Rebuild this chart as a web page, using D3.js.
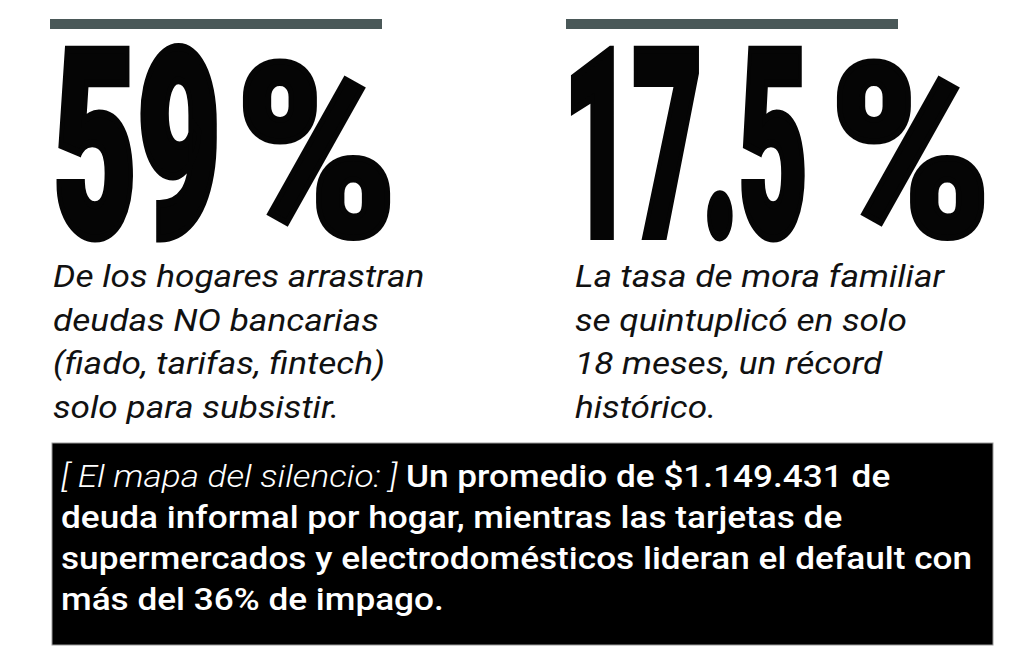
<!DOCTYPE html>
<html>
<head>
<meta charset="utf-8">
<script src="https://cdn.jsdelivr.net/npm/d3@7"></script>
<style>
  html, body { margin: 0; padding: 0; background: #fff; }
  svg { display: block; }
</style>
</head>
<body>
<div id="chart"></div>
<script>
// figures and their captions
var statKeys = ["hogares", "mora"];
var statValues = ["59", "17.5"];
var statUnits = ["%", "%"];
var statLines = [
  ["De los hogares arrastran", "deudas NO bancarias", "(fiado, tarifas, fintech)", "solo para subsistir."],
  ["La tasa de mora familiar", "se quintuplicó en solo", "18 meses, un récord", "histórico."]
];
var boxLead = "[ El mapa del silencio: ]";
var boxLines = [
  "Un promedio de $1.149.431 de",
  "deuda informal por hogar, mientras las tarjetas de",
  "supermercados y electrodomésticos lideran el default con",
  "más del 36% de impago."
];

var width = 1024, height = 664;

var svg = d3.select("#chart").append("svg")
    .attr("width", width)
    .attr("height", height);

var colX = d3.scaleOrdinal().domain(statKeys).range([50, 566]);
var colW = 332;

// per column layout tweaks (the right figure has more digits)
var numX = [3, -3], numLen = [168, 245];
var unitX = [186, 264], unitLen = [161, 161];
var capX = [3, 9];

var stats = statKeys.map(function(k, i) {
  return {key: k, value: statValues[i], unit: statUnits[i], lines: statLines[i], idx: i};
});

var col = svg.selectAll(".stat")
  .data(stats)
 .enter()
  .append("g")
  .attr("class", "stat")
  .attr("transform", function(d) { return "translate(" + colX(d.key) + ",0)"; });

// grey rule on top
col.append("rect")
  .attr("x", 0)
  .attr("y", 19)
  .attr("width", colW)
  .attr("height", 10)
  .style("fill", "#4a5858");

// big condensed figure
var bigFont = "'Roboto', 'Inter', 'Liberation Sans', sans-serif";
col.append("text")
  .attr("class", "big")
  .attr("x", function(d) { return numX[d.idx]; })
  .attr("y", 236)
  .attr("textLength", function(d) { return numLen[d.idx]; })
  .attr("lengthAdjust", "spacingAndGlyphs")
  .style("font-family", bigFont)
  .style("font-weight", 900)
  .style("font-size", "262px")
  .style("fill", "#050505")
  .style("stroke", "#050505")
  .style("stroke-width", 8)
  .style("stroke-linejoin", "miter")
  .text(function(d) { return d.value; });

col.append("text")
  .attr("class", "unit")
  .attr("x", function(d) { return unitX[d.idx]; })
  .attr("y", 236)
  .attr("textLength", function(d) { return unitLen[d.idx]; })
  .attr("lengthAdjust", "spacingAndGlyphs")
  .style("font-family", bigFont)
  .style("font-weight", 900)
  .style("font-size", "242px")
  .style("fill", "#050505")
  .style("stroke", "#050505")
  .style("stroke-width", 6)
  .text(function(d) { return d.unit; });

// italic caption
col.each(function(d) {
  d3.select(this).selectAll(".cap")
    .data(d.lines)
   .enter()
    .append("text")
    .attr("class", "cap")
    .attr("transform", function(l, i) {
      return "translate(" + capX[d.idx] + "," + (287 + i * 43.5) + ") scale(1.1,1)";
    })
    .style("font-family", "'Roboto', sans-serif")
    .style("font-style", "italic")
    .style("font-size", "32px")
    .style("fill", "#111")
    .text(function(l) { return l; });
});

// black note box
var box = svg.append("g").attr("class", "note");
box.append("rect")
  .attr("x", 52)
  .attr("y", 443)
  .attr("width", 941)
  .attr("height", 202)
  .style("fill", "#000")
  .style("stroke", "#9a9a9a")
  .style("stroke-width", 1);

box.selectAll(".line")
  .data(boxLines)
 .enter()
  .append("text")
  .attr("class", "line")
  .attr("transform", function(d, i) {
    return "translate(61," + (487 + i * 41) + ") scale(1.135,1)";
  })
  .style("font-family", "'Roboto', sans-serif")
  .style("font-weight", 500)
  .style("font-size", "31px")
  .style("fill", "#fff")
  .each(function(d, i) {
    var t = d3.select(this);
    if (i === 0) {
      t.append("tspan")
        .style("font-style", "italic")
        .style("font-weight", 300)
        .text(boxLead + " ");
    }
    t.append("tspan").text(d);
  });
</script>
</body>
</html>
